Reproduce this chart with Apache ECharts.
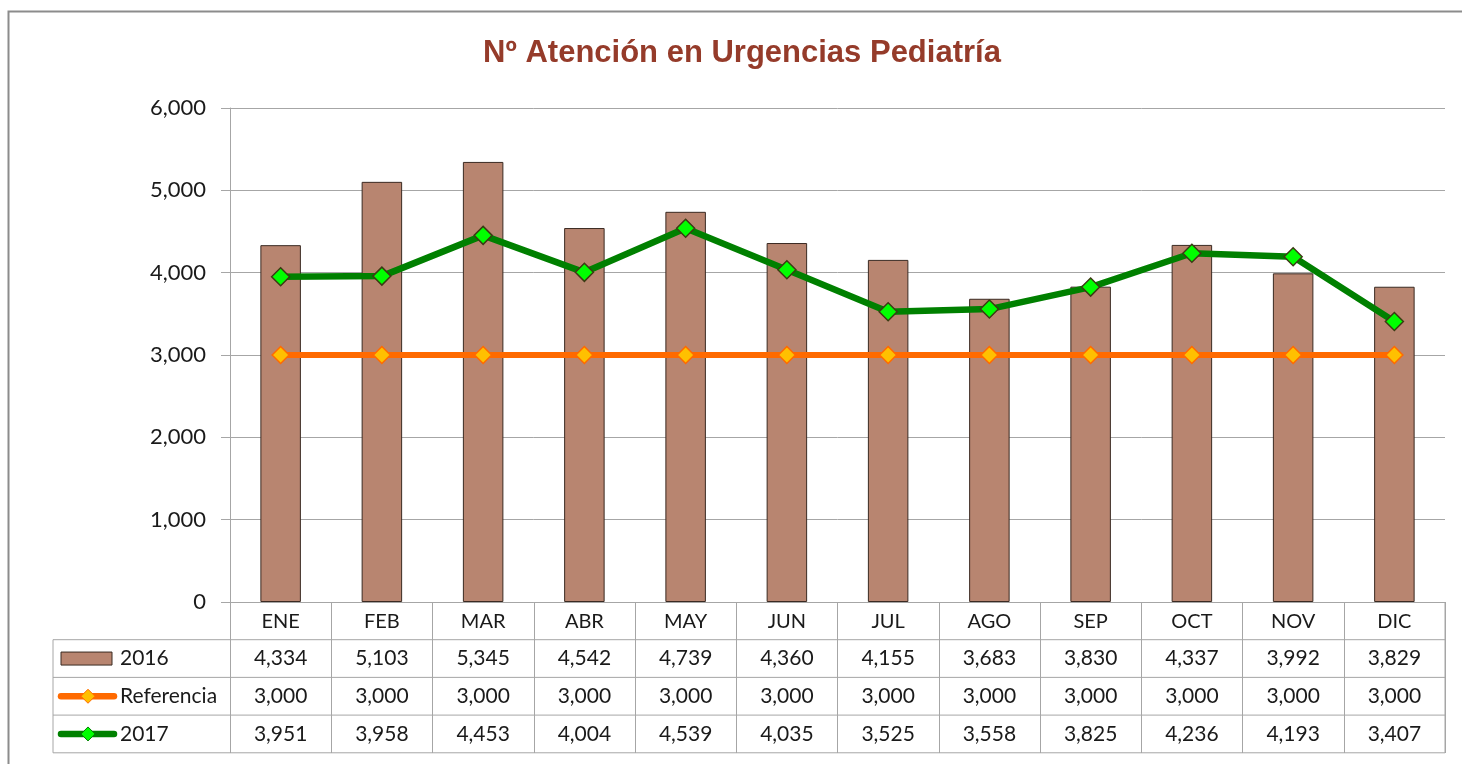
<!DOCTYPE html>
<html><head><meta charset="utf-8">
<script src="https://cdn.jsdelivr.net/npm/echarts@6/dist/echarts.min.js"></script>
<style>html,body{margin:0;padding:0;background:#fff}#c{width:1462px;height:764px}</style>
</head><body><div id="c"></div>
<script>
const categories = ['ENE','FEB','MAR','ABR','MAY','JUN','JUL','AGO','SEP','OCT','NOV','DIC'];
const values2016 = [4334,5103,5345,4542,4739,4360,4155,3683,3830,4337,3992,3829];
const valuesRef  = [3000,3000,3000,3000,3000,3000,3000,3000,3000,3000,3000,3000];
const values2017 = [3951,3958,4453,4004,4539,4035,3525,3558,3825,4236,4193,3407];
const seriesNames = ['2016','Referencia','2017'];
const yTicks = [0,1000,2000,3000,4000,5000,6000];
const titleText = 'Nº Atención en Urgencias Pediatría';

const FONT = 'Lato, "Open Sans", "Liberation Sans", sans-serif';
const GRID = {left:230, right:17, top:108, bottom:162};
const ROW_H = 37.7;
const fmt = v => v.toLocaleString('en-US');

const chart = echarts.init(document.getElementById('c'), null, {renderer:'canvas'});
chart.setOption({
  backgroundColor:'#fff',
  animation:false,
  grid:GRID,
  xAxis:{type:'category', data:categories, boundaryGap:true,
    axisLine:{lineStyle:{color:'#A6A6A6', width:1}},
    axisTick:{show:true, alignWithLabel:false, length:151, lineStyle:{color:'#A6A6A6'}},
    axisLabel:{fontFamily:FONT, fontSize:20, color:'#1a1a1a', margin:10}},
  yAxis:{type:'value', min:yTicks[0], max:yTicks[yTicks.length-1], interval:1000,
    axisLine:{show:true, lineStyle:{color:'#A6A6A6'}},
    axisTick:{show:true, length:9, lineStyle:{color:'#A6A6A6'}},
    splitLine:{lineStyle:{color:'#A6A6A6'}},
    axisLabel:{fontFamily:FONT, fontSize:22, color:'#1a1a1a', margin:24, formatter:v=>fmt(v)}},
  series:[
    {name:seriesNames[0], type:'bar', data:values2016, barWidth:'40%',
      itemStyle:{color:'#B88570', borderColor:'#3A2A22', borderWidth:1}},
    {name:seriesNames[1], type:'line', data:valuesRef, symbol:'diamond', symbolSize:17,
      lineStyle:{color:'#FF6A00', width:6}, itemStyle:{color:'#FFC000', borderColor:'#FF6A00', borderWidth:1.5}},
    {name:seriesNames[2], type:'line', data:values2017, symbol:'diamond', symbolSize:18,
      lineStyle:{color:'#008000', width:6.5}, itemStyle:{color:'#00FF00', borderColor:'#3B3B14', borderWidth:1.5}}
  ]
});

function buildTable(){
  const g = [];
  const axisY = chart.convertToPixel({yAxisIndex:0}, 0);
  const rightX = 1462 - GRID.right;
  const tableLeft = 53;
  const line = (xa,ya,xb,yb)=>({type:'line', shape:{x1:xa,y1:ya,x2:xb,y2:yb}, style:{stroke:'#A6A6A6', lineWidth:1}, silent:true});
  g.push({type:'rect', shape:{x:8.5,y:11.5,width:1470,height:780}, style:{fill:'none', stroke:'#8C8C8C', lineWidth:2}, silent:true});
  g.push({type:'text', x:742, y:53, style:{text:titleText, fontFamily:'"Liberation Sans Narrow","Arial Narrow","Liberation Sans",sans-serif', fontSize:31, fontWeight:'bold', fill:'#953B2A', align:'center', verticalAlign:'middle'}, silent:true});
  const rows = [values2016, valuesRef, values2017];
  for(let r=0;r<=3;r++){
    const y = axisY + ROW_H*(r+1);
    g.push(line(tableLeft, y, rightX, y));
  }
  g.push(line(tableLeft, axisY+ROW_H, tableLeft, axisY+ROW_H*4));
  g.push(line(rightX, axisY, rightX, axisY+ROW_H*4));
  rows.forEach((vals,r)=>{
    const cy = axisY + ROW_H*(r+1) + ROW_H/2;
    vals.forEach((v,i)=>{
      const cx = chart.convertToPixel({xAxisIndex:0}, categories[i]);
      g.push({type:'text', x:cx, y:cy, style:{text:fmt(v), fontFamily:FONT, fontSize:21, fill:'#1a1a1a', align:'center', verticalAlign:'middle'}, silent:true});
    });
    g.push({type:'text', x:120, y:cy, style:{text:seriesNames[r], fontFamily:FONT, fontSize:21, fill:'#1a1a1a', align:'left', verticalAlign:'middle'}, silent:true});
  });
  const cy0 = axisY + ROW_H*1.5, cy1 = axisY + ROW_H*2.5, cy2 = axisY + ROW_H*3.5;
  g.push({type:'rect', shape:{x:61, y:cy0-6.5, width:51, height:13}, style:{fill:'#B88570', stroke:'#3A2A22', lineWidth:1}, silent:true});
  g.push({type:'line', shape:{x1:61,y1:cy1,x2:114,y2:cy1}, style:{stroke:'#FF6A00', lineWidth:6.5, lineCap:'round'}, silent:true});
  g.push({type:'polygon', shape:{points:[[88,cy1-7],[95,cy1],[88,cy1+7],[81,cy1]]}, style:{fill:'#FFC000', stroke:'#FF6A00', lineWidth:1}, silent:true});
  g.push({type:'line', shape:{x1:61,y1:cy2,x2:114,y2:cy2}, style:{stroke:'#008000', lineWidth:6.5, lineCap:'round'}, silent:true});
  g.push({type:'polygon', shape:{points:[[88,cy2-7],[95,cy2],[88,cy2+7],[81,cy2]]}, style:{fill:'#00FF00', stroke:'#008000', lineWidth:1}, silent:true});
  chart.setOption({graphic:{elements:g}});
}
buildTable();
</script></body></html>
